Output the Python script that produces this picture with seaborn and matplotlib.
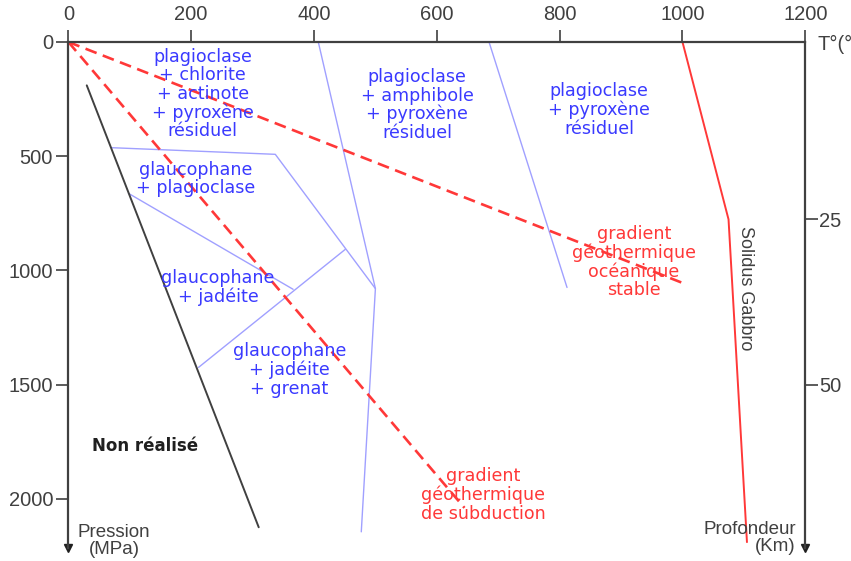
import numpy as np
import matplotlib.pyplot as plt
import seaborn as sns

# Limites de domaines (T en °C, P en MPa)
limite_T = [30, 310]
limite_P = [190, 2125]

subduction_T = [0, 645]
subduction_P = [0, 2040]

oceanique_T = [0, 1000]
oceanique_P = [0, 1055]

solidus_T = [1000, 1075, 1105]
solidus_P = [0, 777, 2190]

# limites des faciès (traits bleus)
faciès_1_T = [407, 500, 477]
faciès_1_P = [0, 1080, 2145]
faciès_2_T = [685, 812]
faciès_2_P = [0, 1075]
faciès_3_T = [71, 337, 500]
faciès_3_P = [463, 492, 1080]
faciès_4_T = [98, 366]
faciès_4_P = [663, 1083]
faciès_5_T = [451, 212]
faciès_5_P = [908, 1425]

x_ticks = [0, 200, 400, 600, 800, 1000, 1200]
y_ticks = [0, 500, 1000, 1500, 2000]
prof_ticks = [777, 1500]
prof_labels = ['25', '50']

sns.set_theme(style='white')
plt.rcParams['font.family'] = ['Liberation Sans', 'DejaVu Sans']

fig = plt.figure(figsize=(8.51, 5.61), dpi=100)
ax = fig.add_axes([0.0803, 0.0235, 0.866, 0.9017])

gris = '#404040'
bleu_trait = '#a0a0ff'
bleu_txt = '#3a3aff'
rouge = '#ff3838'

# traits bleus
for T, P in [(faciès_1_T, faciès_1_P), (faciès_2_T, faciès_2_P), (faciès_3_T, faciès_3_P),
             (faciès_4_T, faciès_4_P), (faciès_5_T, faciès_5_P)]:
    sns.lineplot(x=T, y=P, sort=False, estimator=None, ax=ax, color=bleu_trait, lw=1.0)

sns.lineplot(x=limite_T, y=limite_P, sort=False, estimator=None, ax=ax, color=gris, lw=1.4)
sns.lineplot(x=solidus_T, y=solidus_P, sort=False, estimator=None, ax=ax, color=rouge, lw=1.4)
sns.lineplot(x=subduction_T, y=subduction_P, sort=False, estimator=None, ax=ax, color=rouge,
             lw=1.9, linestyle=(0, (4.5, 2.5)))
sns.lineplot(x=oceanique_T, y=oceanique_P, sort=False, estimator=None, ax=ax, color=rouge,
             lw=1.9, linestyle=(0, (4.5, 2.5)))

ax.set_xlim(0, 1200)
ax.set_ylim(2215, 0)

# axes
ax.xaxis.tick_top()
ax.set_xticks(x_ticks)
ax.set_yticks(y_ticks)
ax.tick_params(axis='both', direction='out', length=9, width=1.2, colors=gris,
               labelsize=14.5, pad=2)
ax.tick_params(axis='x', top=True, bottom=False, pad=4)
ax.tick_params(axis='y', left=True)
for s in ['bottom', 'right']:
    ax.spines[s].set_visible(False)
for s in ['top', 'left']:
    ax.spines[s].set_color(gris)
    ax.spines[s].set_linewidth(1.6)

ax2 = ax.twinx()
ax2.set_ylim(ax.get_ylim())
ax2.set_yticks(prof_ticks)
ax2.set_yticklabels(prof_labels)
ax2.tick_params(axis='y', direction='out', length=9, width=1.2, colors=gris,
                labelsize=14.5, pad=1, right=True)
for s in ['bottom', 'top', 'left']:
    ax2.spines[s].set_visible(False)
ax2.spines['right'].set_color(gris)
ax2.spines['right'].set_linewidth(1.6)
ax2.grid(False)

# flèches
ax.plot([0], [0], marker='v', color='#202020', ms=6, transform=ax.transAxes, clip_on=False)
ax.plot([1], [0], marker='v', color='#202020', ms=6, transform=ax.transAxes, clip_on=False)

# étiquettes
lbl = dict(ha='center', va='center', fontsize=12.6, family=['DejaVu Sans'], linespacing=1.03)
ax.text(219, 228, 'plagioclase\n+ chlorite\n+ actinote\n+ pyroxène\nrésiduel', color=bleu_txt, **lbl)
ax.text(568, 276, 'plagioclase\n+ amphibole\n+ pyroxène\nrésiduel', color=bleu_txt, **lbl)
ax.text(864, 298, 'plagioclase\n+ pyroxène\nrésiduel', color=bleu_txt, **lbl)
ax.text(208, 600, 'glaucophane\n+ plagioclase', color=bleu_txt, **lbl)
ax.text(244, 1077, 'glaucophane\n+ jadéite', color=bleu_txt, **lbl)
ax.text(360, 1437, 'glaucophane\n+ jadéite\n+ grenat', color=bleu_txt, **lbl)
ax.text(676, 1984, 'gradient\ngéothermique\nde subduction', color=rouge, **lbl)
ax.text(921, 964, 'gradient\ngéothermique\nocéanique\nstable', color=rouge, **lbl)
ax.text(125, 1770, 'Non réalisé', ha='center', va='center', fontsize=12,
        fontweight='bold', family=['DejaVu Sans'], color='#202020')
ax.text(1102, 1077, 'Solidus Gabbro', rotation=-90, ha='center', va='center',
        fontsize=13, color=gris)

fig.text(114 / 851, 1 - 541 / 561, 'Pression\n(MPa)', ha='center', va='center',
         fontsize=13.5, color=gris, linespacing=1.0)
fig.text(796 / 851, 1 - 538 / 561, 'Profondeur\n(Km)', ha='right', va='center',
         fontsize=13.5, color=gris, linespacing=1.0, multialignment='right')
fig.text(817 / 851, 1 - 44 / 561, 'T°(°', ha='left', va='center', fontsize=14.5, color=gris)

fig.savefig('out.png', dpi=100)
